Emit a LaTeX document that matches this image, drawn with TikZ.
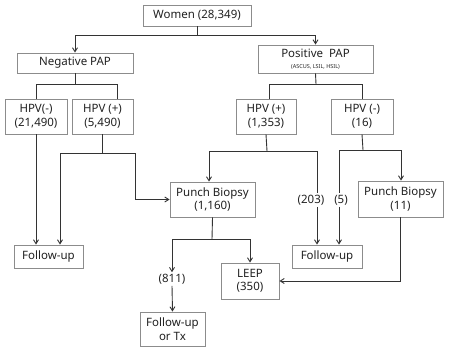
\documentclass[tikz,border=0pt]{standalone}
\usepackage{fontspec}
\setmainfont{Noto Sans}
\usetikzlibrary{arrows.meta}
\definecolor{boxgray}{HTML}{8C8C8C}
\definecolor{linegray}{HTML}{333333}
\definecolor{txt}{HTML}{222222}
\tikzset{
  box/.style={draw=boxgray, line width=0.9pt, fill=white, text=txt, align=center, inner sep=0pt,
    font=\fontsize{11.5}{13.5}\selectfont},
  lbl/.style={text=txt, inner sep=1.5pt, font=\fontsize{11.5}{13.5}\selectfont},
  conn/.style={draw=linegray, line width=0.9pt},
  arr/.style={conn, -{Straight Barb[length=4pt,width=5pt]}}
}
\begin{document}
\begin{tikzpicture}[x=1pt,y=-1pt]
\useasboundingbox (0,0) rectangle (449,352);
% nodes
\node[box, minimum width=108, minimum height=21] (women) at (197,15.5) {Women (28,349)};
\node[box, minimum width=116, minimum height=20] (neg) at (75,63) {Negative PAP};
\node[box, minimum width=115, minimum height=28] (pos) at (315.5,59) {Positive\ \ PAP\\[-3pt]{\fontsize{5.5}{6}\selectfont (ASCUS, LSIL, HSIL)}};
\node[box, minimum width=62, minimum height=35] (hn1) at (36,116.5) {HPV(-)\\(21,490)};
\node[box, minimum width=61, minimum height=35] (hp1) at (102.5,116.5) {HPV (+)\\(5,490)};
\node[box, minimum width=60, minimum height=35] (hp2) at (266,116.5) {HPV (+)\\(1,353)};
\node[box, minimum width=62, minimum height=35] (hn2) at (362,116.5) {HPV (-)\\(16)};
\node[box, minimum width=85, minimum height=35] (pb1) at (212.5,199.5) {Punch Biopsy\\(1,160)};
\node[box, minimum width=85, minimum height=36] (pb2) at (400.5,199) {Punch Biopsy\\(11)};
\node[box, minimum width=69, minimum height=23] (fu1) at (48.5,256.5) {Follow-up};
\node[box, minimum width=70, minimum height=23] (fu2) at (327,256.5) {Follow-up};
\node[box, minimum width=58, minimum height=36] (leep) at (250,281) {LEEP\\(350)};
\node[box, minimum width=65, minimum height=34] (fut) at (172.5,329) {Follow-up\\or Tx};
\node[lbl] (l811) at (172,279) {(811)};
\node[lbl] (l203) at (311,200) {(203)};
\node[lbl] (l5) at (341,200) {(5)};
% junctions
\coordinate (j0) at (197,35);
\coordinate (j1) at (75,84);
\coordinate (a1) at (36,84);
\coordinate (a2) at (117,84);
\coordinate (j1p) at (316,84);
\coordinate (a3) at (269,84);
\coordinate (a4) at (362,84);
\coordinate (j2) at (102.5,153);
\coordinate (k1) at (60,153);
\coordinate (k2) at (135,153);
\coordinate (j3) at (267,151);
\coordinate (k3) at (209,151);
\coordinate (k4) at (317,151);
\coordinate (j4) at (363,150);
\coordinate (k5) at (339,150);
\coordinate (k6) at (401,150);
\coordinate (j5) at (212,239);
\coordinate (k7) at (172,239);
\coordinate (k8) at (250,239);
% connectors
\draw[conn] (women.south) -- (j0);
\draw[arr] (j0) -| (neg.north);
\draw[arr] (j0) -| (pos.north);
\draw[conn] (neg.south) -- (j1);
\draw[conn] (a1 |- hn1.north) -- (a1) -- (a2) -- (a2 |- hp1.north);
\draw[conn] (pos.south) -- (j1p);
\draw[conn] (a3 |- hp2.north) -- (a3) -- (a4) -- (a4 |- hn2.north);
\draw[arr] (hn1.south) -- (hn1.south |- fu1.north);
\draw[conn] (hp1.south) -- (j2);
\draw[arr] (j2) -- (k1) -- (k1 |- fu1.north);
\draw[arr] (j2) -- (k2) |- (pb1.west);
\draw[conn] (hp2.south) -- (j3);
\draw[arr] (j3) -- (k3) -- (k3 |- pb1.north);
\draw[conn] (j3) -- (k4) -- (k4 |- l203.north);
\draw[arr] (k4 |- l203.south) -- (k4 |- fu2.north);
\draw[conn] (hn2.south) -- (j4);
\draw[conn] (j4) -- (k5) -- (k5 |- l5.north);
\draw[arr] (k5 |- l5.south) -- (k5 |- fu2.north);
\draw[arr] (j4) -- (k6) -- (k6 |- pb2.north);
\draw[conn] (pb1.south) -- (j5);
\draw[arr] (j5) -- (k7) -- (l811.north);
\draw[arr] (j5) -- (k8) -- (leep.north);
\draw[arr] (l811.south) -- (fut.north);
\draw[arr] (pb2.south) |- (leep.east);
\end{tikzpicture}
\end{document}
